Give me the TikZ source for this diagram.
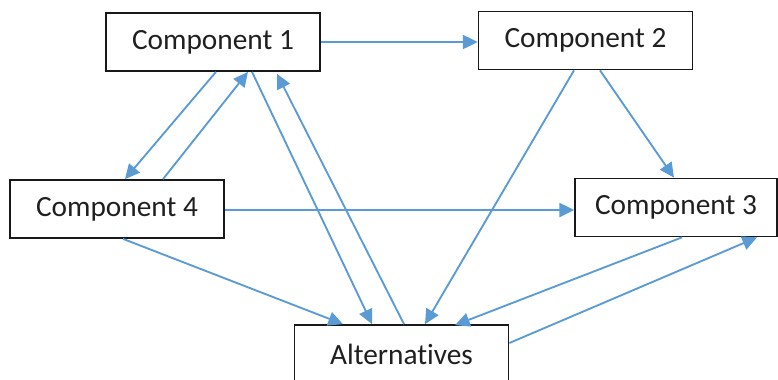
\documentclass[tikz,border=0pt]{standalone}
\usepackage{fontspec}
\setmainfont{Carlito}[Ligatures={NoCommon,NoRequired,NoContextual,NoRare},Contextuals=NoAlternate]
\usetikzlibrary{arrows.meta,calc}
\definecolor{linkblue}{HTML}{5B9BD5}
\begin{document}
\begin{tikzpicture}[x=0.75pt,y=-0.75pt,
    comp/.style={draw=black!90,line width=1.3pt,minimum width=160.5pt,minimum height=43.5pt,inner sep=0pt,text=black!88,font=\fontsize{22}{26}\selectfont},
    link/.style={draw=linkblue,line width=1.4pt,-{Triangle[length=11pt,width=10.5pt]}}]
\useasboundingbox (0,0) rectangle (778,379);
% boxes
\node[comp] (c1) at (213,42) {Component 1};
\node[comp] (c2) at (585.5,40.5) {Component 2};
\node[comp,minimum width=151.5pt] (c3) at (676,207.5) {Component 3};
\node[comp] (c4) at (117,209) {Component 4};
\node[comp] (alt) at (401.5,354) {Alternatives};
\coordinate (c4r) at ($(c4.east)+(0,1)$);
% links
\draw[link] (c1.east) -- (c1.east -| c2.west);
\draw[link] ($(c1.south)+(3,0)$) -- ($(c4.north)+(8,0)$);
\draw[link] ($(c4.north)+(46,0)$) -- ($(c1.south)+(35,0)$);
\draw[link] ($(c1.south)+(39,0)$) -- ($(alt.north)+(-29.5,0)$);
\draw[link] ($(alt.north)+(2.5,0)$) -- ($(c1.south)+(64,2)$);
\draw[link] ($(c2.south)+(-11.5,0)$) -- ($(alt.north)+(23.5,0)$);
\draw[link] ($(c2.south)+(14.5,0)$) -- ($(c3.north)+(-2,0)$);
\draw[link] (c4r) -- (c4r -| c3.west);
\draw[link] ($(c4.south)+(6,0)$) -- ($(alt.north)+(-58.5,0)$);
\draw[link] ($(c3.south)+(6,0)$) -- ($(alt.north)+(53.5,1)$);
\draw[link] ($(alt.east)+(0,-11)$) -- ($(c3.south)+(81,0)$);
\end{tikzpicture}
\end{document}
